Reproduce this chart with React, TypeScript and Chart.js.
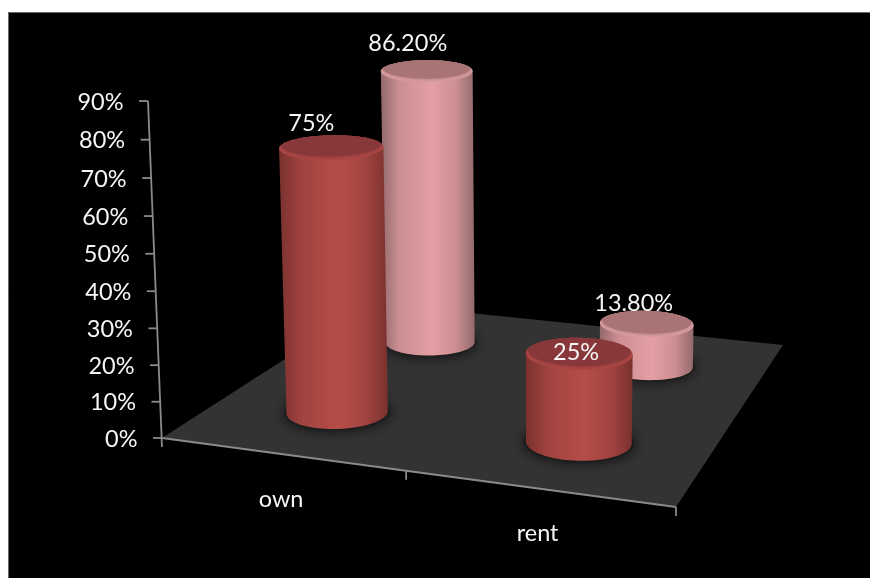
import React, { useEffect, useRef } from "react";
import { Chart, registerables, BarController } from "chart.js";

// Chart values
const categories = ["own", "rent"];
const frontSeries = [75, 25];
const backSeries = [86.2, 13.8];
const frontLabels = ["75%", "25%"];
const backLabels = ["86.20%", "13.80%"];
const axisMax = 90;
const axisStep = 10;

// Page and camera set-up for the 3D floor
const WIDTH = 870;
const HEIGHT = 578;
const FLOOR = { fl: [162, 438], fr: [676, 507], br: [783, 345], bl: [372, 303] };
const VANISH = [545, 9658];
const AXIS_DEPTH = -0.03526;
const RADIUS = 0.1;
const CAP_DROP = 0.009;
const FONT = "23.5px Lato";
const TEXT = "#f6f6f6";
const AXIS = "#8a8a8a";
// Label nudges from each cap centre: [dataset][category]
const LABEL_SHIFT = [
  [[-20, -21], [-3, 2]],
  [[-19, -25], [-13, -18]],
];
const PALETTES = [
  { edge: "#7a312e", side: "#a04340", mid: "#b54d49", cap: "#88373a", rim: "#ad4744" },
  { edge: "#93696b", side: "#cc8f92", mid: "#e49fa3", cap: "#a87476", rim: "#dda0a3" },
];

function floorMatrix() {
  const [x0, y0] = FLOOR.fl;
  const [x1, y1] = FLOOR.fr;
  const [x2, y2] = FLOOR.br;
  const [x3, y3] = FLOOR.bl;
  const dx1 = x1 - x2, dx2 = x3 - x2, sx = x0 - x1 + x2 - x3;
  const dy1 = y1 - y2, dy2 = y3 - y2, sy = y0 - y1 + y2 - y3;
  const den = dx1 * dy2 - dx2 * dy1;
  const g = (sx * dy2 - dx2 * sy) / den;
  const h = (dx1 * sy - sx * dy1) / den;
  return {
    a: x1 - x0 + g * x1, b: x3 - x0 + h * x3, c: x0,
    d: y1 - y0 + g * y1, e: y3 - y0 + h * y3, f: y0,
    g, h,
  };
}
const M = floorMatrix();

// u runs along the category axis, v into the depth, rise is the share of the value axis.
function project(u: number, v: number, rise: number) {
  const k = AXIS_DEPTH * rise;
  const w = M.g * u + M.h * v + 1 + k;
  return {
    x: (M.a * u + M.b * v + M.c + k * VANISH[0]) / w,
    y: (M.d * u + M.e * v + M.f + k * VANISH[1]) / w,
  };
}

// Rings high up the axis open a little wider than a pure pinhole gives.
function ring(u: number, v: number, rise: number, r: number) {
  const pts = [];
  const centre = project(u, v, rise);
  const open = 1 + 0.9 * Math.pow(rise, 6);
  for (let i = 0; i < 96; i++) {
    const t = (i / 96) * Math.PI * 2;
    const p = project(u + r * Math.cos(t), v + r * Math.sin(t), rise);
    pts.push({ x: p.x, y: centre.y + (p.y - centre.y) * open });
  }
  return pts;
}

function trace(ctx: CanvasRenderingContext2D, pts: { x: number; y: number }[]) {
  ctx.beginPath();
  pts.forEach((p, i) => (i ? ctx.lineTo(p.x, p.y) : ctx.moveTo(p.x, p.y)));
  ctx.closePath();
}

function extremes(pts: { x: number; y: number }[]) {
  let l = 0, r = 0;
  pts.forEach((p, i) => {
    if (p.x < pts[l].x) l = i;
    if (p.x > pts[r].x) r = i;
  });
  return [l, r];
}

// Points of a ring going from its left extreme to its right extreme along the near side.
function nearArc(pts: { x: number; y: number }[]) {
  const [l, r] = extremes(pts);
  const n = pts.length;
  const forward = [], backward = [];
  for (let i = l; ; i = (i + 1) % n) { forward.push(pts[i]); if (i === r) break; }
  for (let i = l; ; i = (i - 1 + n) % n) { backward.push(pts[i]); if (i === r) break; }
  const mean = (a: { y: number }[]) => a.reduce((s, p) => s + p.y, 0) / a.length;
  return mean(forward) > mean(backward) ? forward : backward;
}

function drawCylinder(ctx: CanvasRenderingContext2D, u: number, v: number, rise: number, pal: any) {
  const base = ring(u, v, 0, RADIUS);
  const topRise = Math.max(rise - CAP_DROP, 0.005);
  const top = ring(u, v, topRise, RADIUS);

  // soft contact shadow on the floor
  ctx.save();
  ctx.shadowColor = "rgba(0,0,0,0.85)";
  ctx.shadowBlur = 14;
  ctx.fillStyle = "#1c1c1c";
  trace(ctx, ring(u, v, 0, RADIUS * 1.04));
  ctx.fill();
  ctx.restore();

  // side wall
  const baseArc = nearArc(base);
  const [tl, tr] = extremes(top);
  const left = Math.min(top[tl].x, base[extremes(base)[0]].x);
  const right = Math.max(top[tr].x, base[extremes(base)[1]].x);
  const wall = ctx.createLinearGradient(left, 0, right, 0);
  wall.addColorStop(0, pal.edge);
  wall.addColorStop(0.2, pal.side);
  wall.addColorStop(0.55, pal.mid);
  wall.addColorStop(0.8, pal.side);
  wall.addColorStop(1, pal.edge);
  ctx.beginPath();
  ctx.moveTo(top[tl].x, top[tl].y);
  baseArc.forEach((p) => ctx.lineTo(p.x, p.y));
  ctx.lineTo(top[tr].x, top[tr].y);
  ctx.closePath();
  ctx.fillStyle = wall;
  ctx.fill();

  // bevelled rim, then the darker cap set slightly behind it
  ctx.save();
  trace(ctx, top);
  ctx.fillStyle = pal.rim;
  ctx.fill();
  ctx.clip();
  const cap = ring(u, v, topRise, RADIUS * 0.96).map((p) => ({ x: p.x, y: p.y - 3 }));
  trace(ctx, cap);
  ctx.shadowColor = pal.cap;
  ctx.shadowBlur = 5;
  ctx.fillStyle = pal.cap;
  ctx.fill();
  ctx.restore();
}

class CylinderController extends BarController {
  static id = "cylinder";
  static defaults = { ...BarController.defaults };

  draw() {
    const ctx = this.chart.ctx;
    const meta: any = this.getMeta();
    const { xScale, yScale } = meta;
    const count = this.chart.data.datasets.length;
    const v = (this.index + 0.5) / count;
    const pal = PALETTES[this.index];
    meta.data.forEach((_: any, i: number) => {
      const parsed: any = this.getParsed(i);
      const u = (xScale.getPixelForValue(i) - xScale.left) / xScale.width;
      const rise = (yScale.bottom - yScale.getPixelForValue(parsed.y)) / yScale.height;
      drawCylinder(ctx, u, v, rise, pal);
    });
  }
}

const sceneBackdrop = {
  id: "sceneBackdrop",
  beforeDraw(chart: any) {
    const { ctx } = chart;
    ctx.save();
    ctx.fillStyle = "#ffffff";
    ctx.fillRect(0, 0, WIDTH, HEIGHT);
    ctx.fillStyle = "#000000";
    ctx.fillRect(8, 12, WIDTH - 8, HEIGHT - 12);
    ctx.strokeStyle = "#6a6a6a";
    ctx.lineWidth = 1;
    ctx.beginPath();
    ctx.moveTo(8.5, HEIGHT);
    ctx.lineTo(8.5, 12.5);
    ctx.lineTo(WIDTH, 12.5);
    ctx.stroke();
    ctx.restore();
  },
  beforeDatasetsDraw(chart: any) {
    const { ctx, scales } = chart;
    const { x, y } = scales;
    const corners = [project(0, 0, 0), project(1, 0, 0), project(1, 1, 0), project(0, 1, 0)];
    ctx.save();
    ctx.fillStyle = "#333333";
    trace(ctx, corners);
    ctx.fill();

    ctx.strokeStyle = AXIS;
    ctx.lineWidth = 1.8;
    ctx.fillStyle = TEXT;
    ctx.font = FONT;

    // value axis with its ticks and labels
    const foot = project(0, 0, 0);
    const head = project(0, 0, 1);
    ctx.beginPath();
    ctx.moveTo(head.x, head.y);
    ctx.lineTo(foot.x, foot.y + 9);
    ctx.stroke();
    ctx.textAlign = "right";
    ctx.textBaseline = "middle";
    y.ticks.forEach((tick: any) => {
      const rise = (y.bottom - y.getPixelForValue(tick.value)) / y.height;
      const p = project(0, 0, rise);
      ctx.beginPath();
      ctx.moveTo(p.x - 9, p.y);
      ctx.lineTo(p.x, p.y);
      ctx.stroke();
      ctx.fillText(tick.label, p.x - 24.5, p.y + 1);
    });

    // category axis along the front edge of the floor
    const end = project(1, 0, 0);
    ctx.beginPath();
    ctx.moveTo(foot.x, foot.y);
    ctx.lineTo(end.x, end.y);
    ctx.stroke();
    const n = categories.length;
    for (let i = 1; i <= n; i++) {
      const p = project(i / n, 0, 0);
      ctx.beginPath();
      ctx.moveTo(p.x, p.y);
      ctx.lineTo(p.x, p.y + 9);
      ctx.stroke();
    }
    ctx.textAlign = "center";
    categories.forEach((_, i) => {
      const u = (x.getPixelForValue(i) - x.left) / x.width;
      const p = project(u, 0, 0);
      ctx.fillText(x.getLabelForValue(i), p.x, p.y + 45);
    });
    ctx.restore();
  },
  afterDatasetsDraw(chart: any) {
    const { ctx, scales, data } = chart;
    const { x, y } = scales;
    ctx.save();
    ctx.fillStyle = TEXT;
    ctx.font = FONT;
    ctx.textAlign = "center";
    ctx.textBaseline = "middle";
    data.datasets.forEach((ds: any, d: number) => {
      const v = (d + 0.5) / data.datasets.length;
      ds.data.forEach((value: number, i: number) => {
        const u = (x.getPixelForValue(i) - x.left) / x.width;
        const rise = (y.bottom - y.getPixelForValue(value)) / y.height;
        const p = project(u, v, rise);
        const [dx, dy] = LABEL_SHIFT[d][i];
        ctx.fillText(ds.valueLabels[i], p.x + dx, p.y + dy);
      });
    });
    ctx.restore();
  },
};

Chart.register(...registerables, CylinderController);

export default function App() {
  const ref = useRef<HTMLCanvasElement>(null);

  useEffect(() => {
    const chart = new Chart(ref.current as any, {
      type: "cylinder" as any,
      data: {
        labels: categories,
        datasets: [
          { label: "Front", data: frontSeries, valueLabels: frontLabels, clip: false } as any,
          { label: "Back", data: backSeries, valueLabels: backLabels, clip: false } as any,
        ],
      },
      options: {
        animation: false,
        responsive: false,
        devicePixelRatio: 1,
        layout: {
          padding: {
            left: FLOOR.fl[0],
            right: WIDTH - FLOOR.fr[0],
            top: 101,
            bottom: HEIGHT - FLOOR.fl[1],
          },
        },
        plugins: { legend: { display: false }, tooltip: { enabled: false } },
        scales: {
          x: { type: "category", display: false, offset: true },
          y: {
            type: "linear",
            display: false,
            min: 0,
            max: axisMax,
            ticks: { stepSize: axisStep, callback: (v: any) => `${v}%` },
          },
        },
      } as any,
      plugins: [sceneBackdrop],
    });
    return () => chart.destroy();
  }, []);

  return (
    <canvas
      ref={ref}
      width={WIDTH}
      height={HEIGHT}
      style={{ position: "fixed", left: 0, top: 0, display: "block" }}
    />
  );
}
